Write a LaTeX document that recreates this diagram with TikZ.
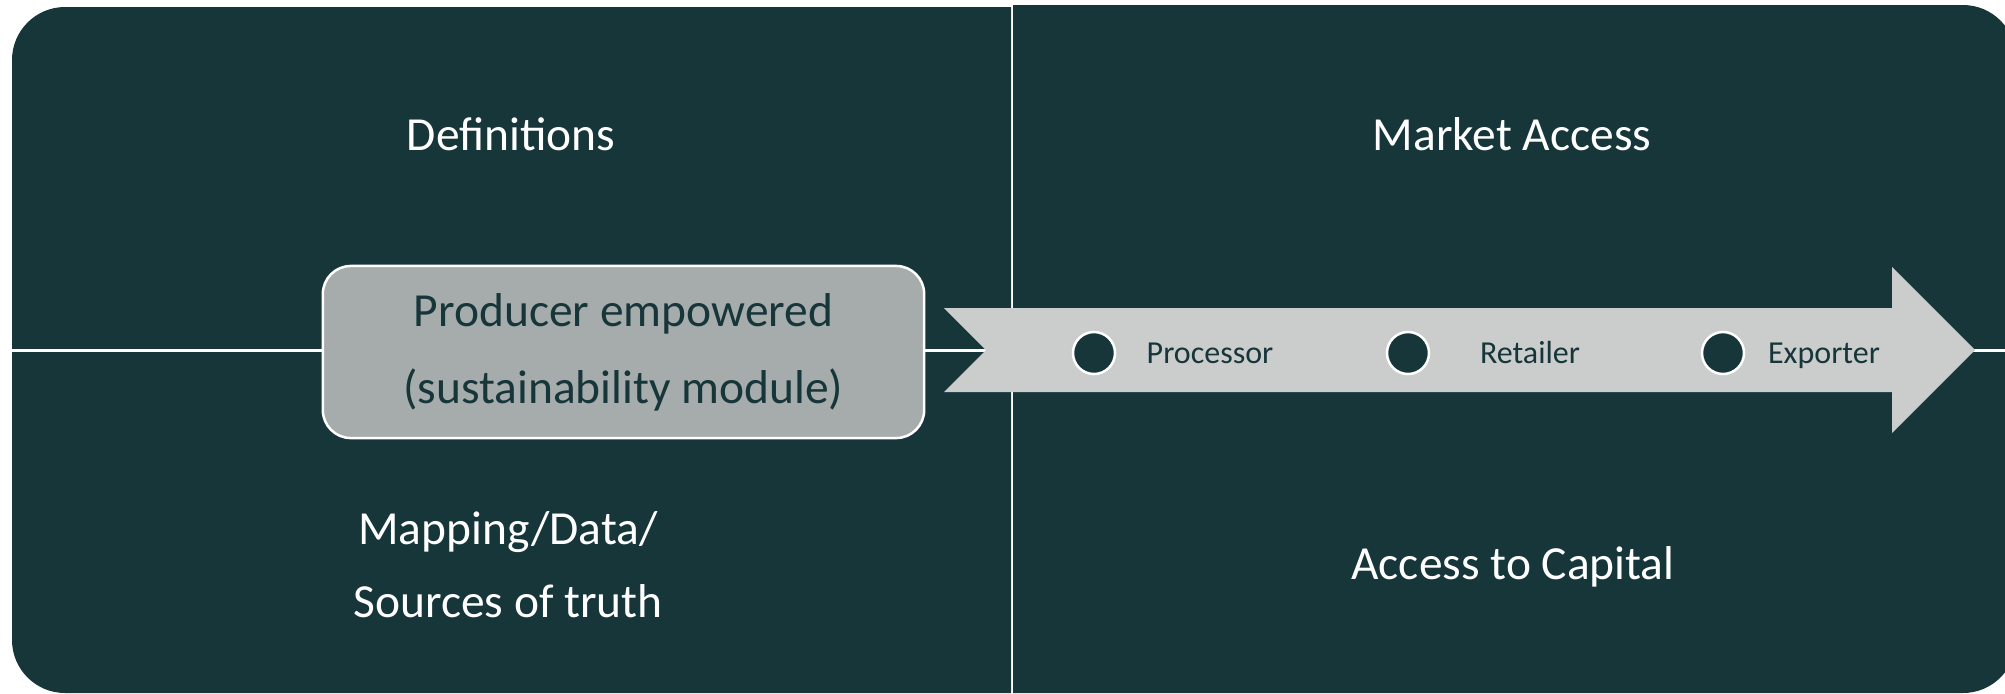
\documentclass[tikz,border=0pt]{standalone}
\usepackage{fontspec}
\setmainfont{Carlito}
\definecolor{bgdark}{HTML}{17363A}
\definecolor{boxgray}{HTML}{A6ABAB}
\definecolor{arrowgray}{HTML}{CBCCCC}
\begin{document}
\begin{tikzpicture}[x=0.01cm,y=-0.01cm,
  title/.style={text=white,font=\fontsize{13.5}{20.8}\selectfont,align=center,inner sep=0pt},
  prodbox/.style={draw=white,line width=0.025cm,fill=boxgray,rounded corners=0.28cm,
    minimum width=6.01cm,minimum height=1.72cm,text=bgdark,align=center,inner sep=0pt,
    font=\fontsize{13.5}{21.9}\selectfont},
  dot/.style={circle,fill=bgdark,draw=white,line width=0.025cm,minimum size=0.42cm,inner sep=0pt},
  steplabel/.style={text=bgdark,font=\fontsize{9.1}{11}\selectfont,inner sep=0pt,anchor=base}]
\useasboundingbox (0,0) rectangle (2005,693);
\clip (0,0) rectangle (2005,693);
% dark quadrants
\begin{scope}
  \clip (0,0) rectangle (1011,693);
  \fill[bgdark,rounded corners=0.53cm] (12,7) rectangle (1200,693);
\end{scope}
\begin{scope}
  \clip (1013,0) rectangle (2005,693);
  \fill[bgdark,rounded corners=0.53cm] (800,5) rectangle (2016,693);
\end{scope}
% horizontal divider
\coordinate (hl) at (12,350);
\coordinate (hr) at (2005,350);
\draw[white,line width=0.03cm] (hl) -- (hr);
% arrow
\fill[arrowgray] (944,308) -- (1892,308) -- (1892,267) -- (1975,350) -- (1892,433)
  -- (1892,392) -- (944,392) -- (986,350) -- cycle;
% producer box
\node[prodbox] (prod) at (623.5,352) {Producer empowered\\(sustainability module)};
% stages
\node[dot] (c1) at (1094,353) {};
\node[dot] (c2) at (1408,353) {};
\node[dot] (c3) at (1723,353) {};
\node[steplabel] (l1) at (1210,363) {Processor};
\node[steplabel] (l2) at (1530,363) {Retailer};
\node[steplabel] (l3) at (1824,363) {Exporter};
% titles
\node[title] (def) at (511,134) {Definitions};
\node[title] (mkt) at (1512,134) {Market Access};
\node[title] (map) at (508,565) {Mapping/Data/\\Sources of truth};
\node[title] (cap) at (1513,567) {Access to Capital};
\end{tikzpicture}
\end{document}
